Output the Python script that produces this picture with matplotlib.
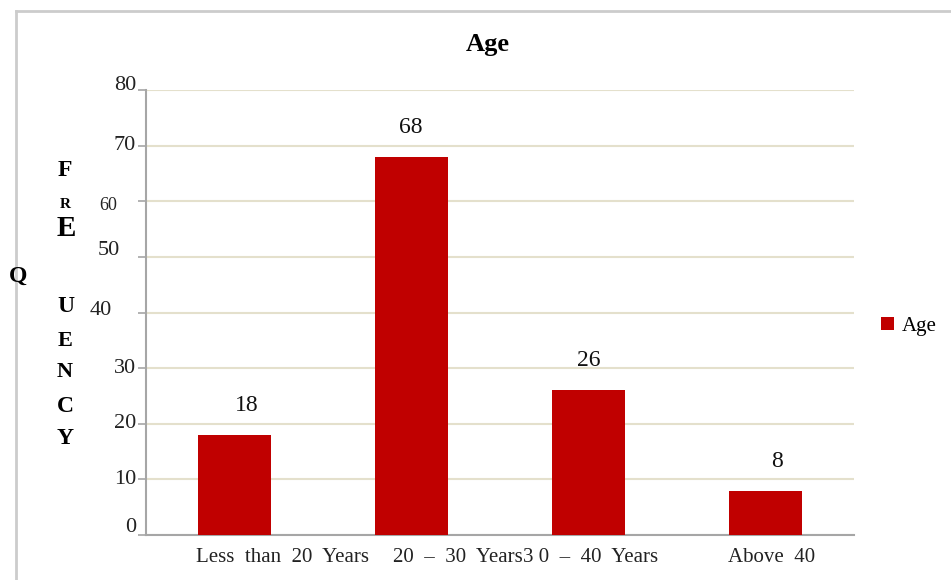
import matplotlib
matplotlib.use('Agg')
import matplotlib.pyplot as plt
from matplotlib.lines import Line2D
from matplotlib.transforms import offset_copy

# --- data ---
categories = ['Less  than  20  Years', '20  –  30  Years', '3 0  –  40  Years', 'Above  40']
counts = [18, 68, 26, 8]
yticks = [0, 10, 20, 30, 40, 50, 60, 70, 80]
series_name = 'Age'
title = 'Age'
ylabel_letters = ['F', 'R', 'E', 'Q', 'U', 'E', 'N', 'C', 'Y']

# --- styling / placement (pixels) ---
W, H = 951, 580
bar_color = '#C00000'
grid_color = '#E4E0CC'
axis_color = '#A6A6A6'
serif = 'Liberation Serif'

# x label offsets from bar centre (px)
xlab_dx = [48, 46, 2, 6]
# value label offsets from bar centre (px)
val_dx = [12, -1, 0, 11]
# y tick label: (right edge offset from axis, vertical offset) in px
ytick_off = {0: (-10, 7), 10: (-10, 0), 20: (-10, 0), 30: (-10, 0),
             40: (-34, 2), 50: (-26, 6), 60: (-29, -4), 70: (-10, 0), 80: (-10, 4)}
ytick_size = {60: 13}
# letters of y label: (x px, y px, size)
ylabel_pos = [(65, 170, 17), (65, 205, 11), (66, 228, 21), (18, 276, 17), (66, 306, 17),
              (65, 341, 16), (65, 372, 16), (65, 406, 17), (65, 438, 17)]

fig = plt.figure(figsize=(W / 100, H / 100), dpi=100)
ax = fig.add_axes([146 / W, 45 / H, 708 / W, 445 / H])

x = [i + 0.5 for i in range(len(categories))]
ax.bar(x, counts, width=0.41, color=bar_color, zorder=3, label=series_name)

ax.set_xlim(0, len(categories))
ax.set_ylim(0, 80)
ax.set_yticks(yticks)
ax.set_xticks([])
ax.tick_params(axis='y', labelleft=False, length=6, width=1.2, color=axis_color, direction='out')
ax.grid(axis='y', color=grid_color, linewidth=1.5, zorder=0)

for s in ['top', 'right']:
    ax.spines[s].set_visible(False)
for s in ['left', 'bottom']:
    ax.spines[s].set_color(axis_color)
    ax.spines[s].set_linewidth(1.5)

# y tick labels
ytr = ax.get_yaxis_transform()
for v in yticks:
    dx, dy = ytick_off[v]
    t = offset_copy(ytr, fig=fig, x=dx, y=dy, units='dots')
    ax.text(0, v, str(v), transform=t, ha='right', va='center',
            fontsize=ytick_size.get(v, 16), family=serif, color='#222222')

# x category labels
xtr = ax.get_xaxis_transform()
for xi, lab, dx in zip(x, categories, xlab_dx):
    t = offset_copy(xtr, fig=fig, x=dx, y=-23, units='dots')
    ax.text(xi, 0, lab, transform=t, ha='center', va='center',
            fontsize=15, family=serif, color='#222222')

# value labels
for xi, v, dx in zip(x, counts, val_dx):
    t = offset_copy(ax.transData, fig=fig, x=dx, y=0, units='dots')
    ax.text(xi, v + 5.3, str(v), transform=t, ha='center', va='center',
            fontsize=17, family=serif, color='#111111')

# title
fig.text(488 / W, 1 - 44 / H, title, ha='center', va='center',
         fontsize=19, fontweight='bold', family=serif)

# scattered vertical y label
for ch, (px, py, sz) in zip(ylabel_letters, ylabel_pos):
    fig.text(px / W, 1 - py / H, ch, ha='center', va='center',
             fontsize=sz, fontweight='bold', family=serif)

# legend
fig.legend(loc='center left', bbox_to_anchor=(881 / W, 1 - 326 / H), frameon=False,
           handlelength=0.6, handleheight=0.6, handletextpad=0.4, borderpad=0,
           borderaxespad=0, prop={'family': serif, 'size': 15})

# outer frame lines
frame_kw = dict(color='#CCCCCC', linewidth=2, transform=fig.transFigure)
fig.add_artist(Line2D([16 / W, 1], [1 - 11 / H, 1 - 11 / H], **frame_kw))
fig.add_artist(Line2D([16 / W, 16 / W], [0, 1 - 11 / H], **frame_kw))

fig.savefig('out.png', dpi=100)
